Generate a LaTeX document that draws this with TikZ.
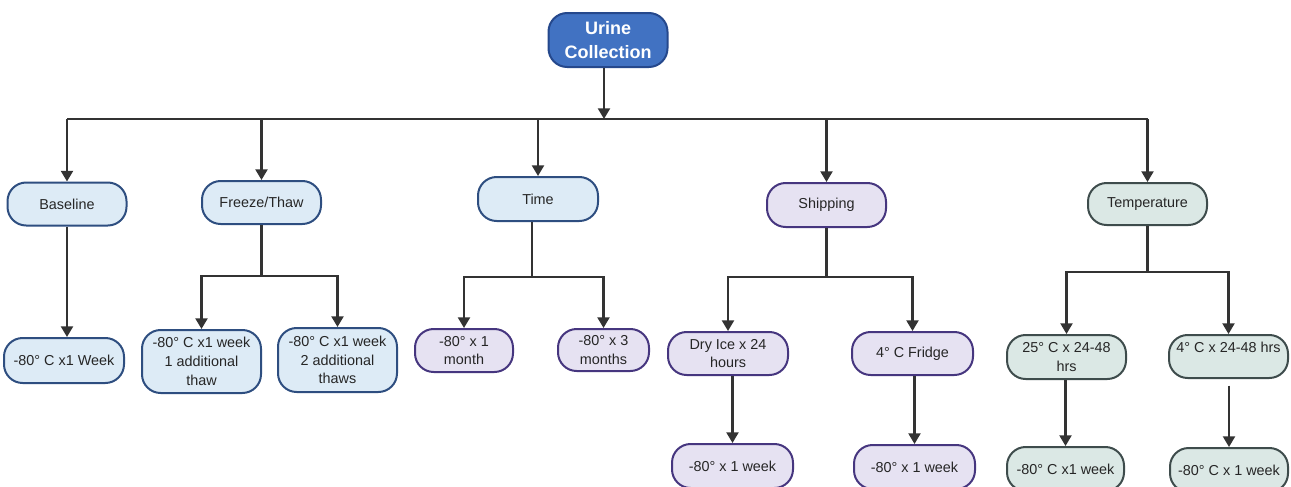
\documentclass[tikz,border=0pt]{standalone}
\usepackage{fontspec}
\setmainfont{Liberation Sans}
\usetikzlibrary{arrows.meta}
\definecolor{ucfill}{HTML}{4172C2}
\definecolor{ucdraw}{HTML}{25488C}
\definecolor{bfill}{HTML}{DDEBF6}
\definecolor{bdraw}{HTML}{2E4E80}
\definecolor{pfill}{HTML}{E6E2F2}
\definecolor{pdraw}{HTML}{46367F}
\definecolor{gfill}{HTML}{DBE8E5}
\definecolor{gdraw}{HTML}{3E4C4C}
\definecolor{lncol}{HTML}{333333}
\tikzset{
  box/.style={draw, line width=1.5pt, rounded corners=14pt, align=center, inner sep=0pt,
    font=\fontsize{10.8}{14}\selectfont, text=black!85},
  bluebox/.style={box, fill=bfill, draw=bdraw},
  purplebox/.style={box, fill=pfill, draw=pdraw},
  greenbox/.style={box, fill=gfill, draw=gdraw},
  topbox/.style={box, fill=ucfill, draw=ucdraw, text=white,
    font=\fontsize{13.5}{18}\selectfont\bfseries},
  conn/.style={draw=lncol, line width=1.6pt},
  arrow/.style={conn, -{Triangle[width=9pt,length=8pt]}},
}
\begin{document}
\begin{tikzpicture}[x=0.75pt,y=-0.75pt]
\useasboundingbox[fill=white] (0,0) rectangle (1291,486);
% top
\node[topbox, minimum width=89.25pt, minimum height=40.5pt] (uc) at (608,40) {Urine\\Collection};
% level 1
\node[bluebox, minimum width=89.25pt, minimum height=32.25pt] (base) at (67,204) {Baseline};
\node[bluebox, minimum width=89.25pt, minimum height=32.25pt] (ft) at (261.5,202.5) {Freeze/Thaw};
\node[bluebox, minimum width=90pt, minimum height=33pt] (time) at (538,199) {Time};
\node[purplebox, minimum width=89.25pt, minimum height=33pt] (ship) at (826.5,205) {Shipping};
\node[greenbox, minimum width=89.25pt, minimum height=31.5pt] (temp) at (1147.5,204) {Temperature};
% level 2
\node[bluebox, minimum width=90pt, minimum height=33.75pt] (b1) at (64,360.5) {-80° C x1 Week};
\node[bluebox, minimum width=89.25pt, minimum height=47.25pt] (f1) at (201.5,361.5) {-80° C x1 week\\1 additional\\thaw};
\node[bluebox, minimum width=89.25pt, minimum height=48pt] (f2) at (337.5,360) {-80° C x1 week\\2 additional\\thaws};
\node[purplebox, minimum width=73.5pt, minimum height=32.25pt] (t1) at (464,350.5) {-80° x 1\\month};
\node[purplebox, minimum width=68.25pt, minimum height=31.5pt] (t2) at (603.5,350) {-80° x 3\\months};
\node[purplebox, minimum width=90pt, minimum height=32.25pt] (s1) at (728,353.5) {Dry Ice x 24\\hours};
\node[purplebox, minimum width=90.75pt, minimum height=32.25pt] (s2) at (912.5,353.5) {4° C Fridge};
\node[greenbox, minimum width=89.25pt, minimum height=33pt] (p1) at (1066.5,357) {25° C x 24-48\\hrs};
\node[greenbox, minimum width=89.25pt, minimum height=32.25pt] (p2) at (1228.5,356.5) {4° C x 24-48 hrs\\\mbox{}};
% level 3
\node[purplebox, minimum width=90.75pt, minimum height=33pt] (s1a) at (732.5,466) {-80° x 1 week};
\node[purplebox, minimum width=90.75pt, minimum height=33pt] (s2a) at (914.5,467) {-80° x 1 week};
\node[greenbox, minimum width=87.75pt, minimum height=33pt] (p1a) at (1065.5,469) {-80° C x1 week};
\node[greenbox, minimum width=88.5pt, minimum height=33pt] (p2a) at (1229,470) {-80° C x 1 week};
% bus coordinates
\coordinate (bus) at (604,119);
\coordinate (fb) at (0,276);
\coordinate (tb) at (532,277);
\coordinate (sb) at (0,277);
\coordinate (pb) at (0,272);
% connectors
\draw[arrow] (uc.south -| bus) -- (bus);
\draw[conn] (base.north |- bus) -- (temp.north |- bus);
\foreach \n in {base,ft,time,ship,temp}{
  \draw[arrow] (\n.north |- bus) -- (\n.north);
}
\draw[arrow] (base.south) -- (base.south |- b1.north);
% freeze/thaw
\draw[conn] (ft.south) -- (ft.south |- fb);
\draw[arrow] (ft.south |- fb) -| (f1.north);
\draw[arrow] (ft.south |- fb) -| (f2.north);
% time
\draw[conn] (time.south -| tb) -- (tb);
\draw[arrow] (tb) -| (t1.north);
\draw[arrow] (tb) -| (t2.north);
% shipping
\draw[conn] (ship.south) -- (ship.south |- sb);
\draw[arrow] (ship.south |- sb) -| (s1.north);
\draw[arrow] (ship.south |- sb) -| (s2.north);
\draw[arrow] (s1a.north |- s1.south) -- (s1a.north);
\draw[arrow] (s2a.north |- s2.south) -- (s2a.north);
% temperature
\draw[conn] (temp.south) -- (temp.south |- pb);
\draw[arrow] (temp.south |- pb) -| (p1.north);
\draw[arrow] (temp.south |- pb) -| (p2.north);
\draw[arrow] (p1a.north |- p1.south) -- (p1a.north);
\draw[arrow, shorten <=5pt] (p2a.north |- p2.south) -- (p2a.north);
\end{tikzpicture}
\end{document}
